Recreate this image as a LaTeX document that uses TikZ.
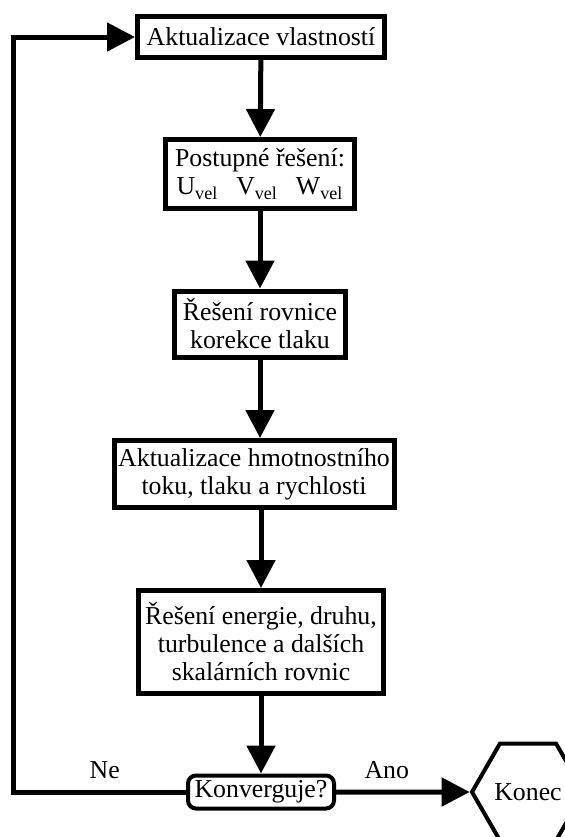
\documentclass[tikz,border=0pt]{standalone}
\usepackage{fontspec}
\setmainfont{Liberation Serif}
\usetikzlibrary{arrows.meta,shapes.geometric}

\tikzset{
  krok/.style={draw, line width=2.5pt, align=center, inner sep=0pt, font=\fontsize{12.9}{14}\selectfont},
  sipka/.style={line width=2.5pt, -{Triangle[width=14pt,length=14pt]}},
  popis/.style={font=\fontsize{12.9}{14}\selectfont}
}

\begin{document}
\begin{tikzpicture}[x=0.5pt,y=-0.5pt]
  \useasboundingbox (0,0) rectangle (565,837);

  \node[krok, minimum width=123.5pt, minimum height=20.5pt] (akt) at (261,37) {Aktualizace vlastností};
  \node[krok, minimum width=94.5pt, minimum height=34.5pt] (post) at (260,174)
    {Postupné řešení:\\ U\textsubscript{vel}\hspace{9pt}V\textsubscript{vel}\hspace{9pt}W\textsubscript{vel}};
  \node[krok, minimum width=85.5pt, minimum height=33pt] (tlak) at (260,324) {Řešení rovnice\\ korekce tlaku};
  \node[krok, minimum width=140pt, minimum height=33.5pt] (tok) at (254,474) {Aktualizace hmotnostního\\ toku, tlaku a rychlosti};
  \node[krok, minimum width=122.5pt, minimum height=51.5pt] (skal) at (261,642) {Řešení energie, druhu,\\ turbulence a dalších\\ skalárních rovnic};
  \node[krok, line width=2pt, rounded corners=4pt, minimum width=73pt, minimum height=16.5pt] (konv) at (261,792) {Konverguje?};
  \node[krok, line width=2pt, regular polygon, regular polygon sides=6, minimum size=56pt] (konec) at (528,792) {Konec};
  \coordinate (roh) at (13,792);

  \draw[sipka] (akt) -- (post);
  \draw[sipka] (post) -- (tlak);
  \draw[sipka] (tlak) -- (tlak |- tok.north);
  \draw[sipka] (tok.south -| skal) -- (skal);
  \draw[sipka] (skal) -- (konv);
  \draw[sipka] (konv) -- node[popis, pos=0.38, above=2pt] {Ano} (konec);
  \draw[sipka] (konv) -- node[popis, pos=0.47, above=2pt] {Ne} (roh) |- (akt);
\end{tikzpicture}
\end{document}
